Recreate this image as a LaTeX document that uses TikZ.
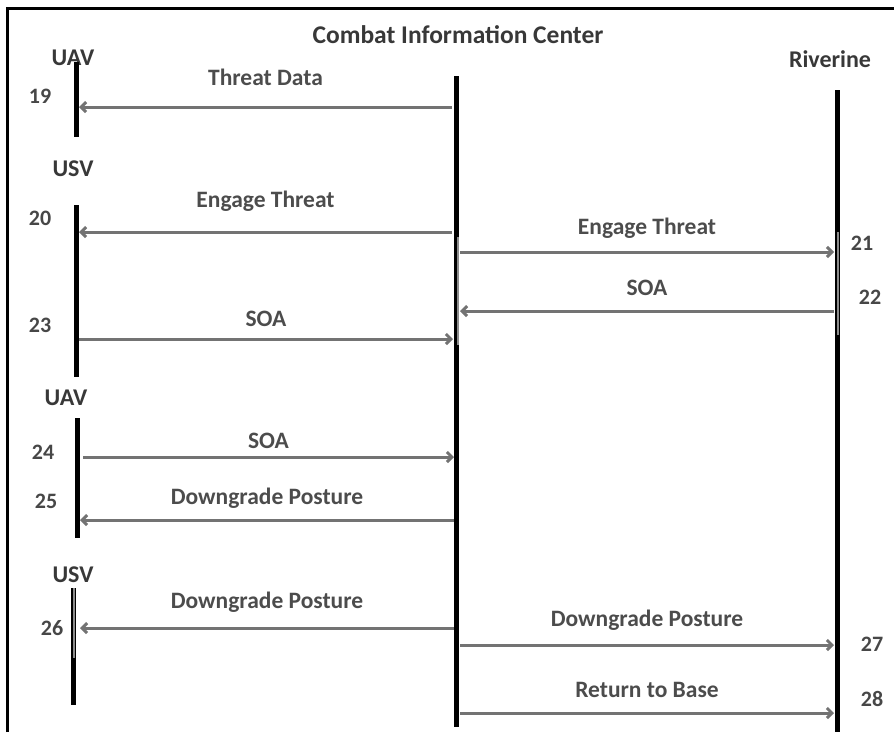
\documentclass[tikz,border=0pt]{standalone}
\usepackage{fontspec}
\setmainfont{Carlito}
\usetikzlibrary{arrows.meta, positioning}

\begin{document}
\begin{tikzpicture}[
    x=1pt, y=-1pt,
    head/.style={font=\fontsize{24}{27}\selectfont\bfseries, text=black!78, inner sep=0pt},
    lbl/.style={font=\fontsize{23.5}{27}\selectfont\bfseries, text=black!70, inner sep=0pt},
    num/.style={font=\fontsize{22}{25}\selectfont\bfseries, text=black!72, inner sep=0pt},
    lifeline/.style={line width=5pt, black},
    activ/.style={line width=2.5pt, black!45},
    msg/.style={-{Straight Barb[length=5pt, width=10pt]}, line width=3pt, black!55},
]
\useasboundingbox (0,0) rectangle (894,732);

% ── Frame ──
\draw[line width=3pt] (7,732) -- (7,8) -- (894,8);

% ── Heads ──
\node[head, font=\fontsize{25.5}{28}\selectfont\bfseries] (cic) at (458,35) {Combat Information Center};
\node[head] (riv) at (830,59) {Riverine};
\node[head] (uavA) at (73,58) {UAV};
\node[head] (usvA) at (73,169) {USV};
\node[head] (uavB) at (66,398) {UAV};
\node[head] (usvB) at (73,575) {USV};

% ── Lifelines ──
\coordinate (cicTop) at (456,76);  \coordinate (cicBot) at (456,727);
\coordinate (rivTop) at (837,90);  \coordinate (rivBot) at (837,732);
\coordinate (uavATop) at (76,62);  \coordinate (uavABot) at (76,137);
\coordinate (usvATop) at (76,205); \coordinate (usvABot) at (76,377);
\coordinate (uavBTop) at (77,418); \coordinate (uavBBot) at (77,538);
\coordinate (usvBTop) at (73,588); \coordinate (usvBBot) at (73,705);

\draw[lifeline] (cicTop) -- (cicBot);
\draw[lifeline] (rivTop) -- (rivBot);
\draw[lifeline] (uavATop) -- (uavABot);
\draw[lifeline] (usvATop) -- (usvABot);
\draw[lifeline] (uavBTop) -- (uavBBot);
\draw[lifeline] (usvBTop) -- (usvBBot);

% ── Activations ──
\draw[activ] (458,237) -- (458,345);
\draw[activ] (838,232) -- (838,335);
\draw[activ] (74,588) -- (74,658);

% ── Message ends ──
\coordinate (c19) at (452,107); \coordinate (e19) at (79,107);
\coordinate (c20) at (452,232); \coordinate (e20) at (79,232);
\coordinate (c21) at (460,252); \coordinate (e21) at (834,252);
\coordinate (c22) at (460,311); \coordinate (e22) at (834,311);
\coordinate (c23) at (453,339); \coordinate (e23) at (79,339);
\coordinate (c24) at (454,457); \coordinate (e24) at (83,457);
\coordinate (c25) at (454,520); \coordinate (e25) at (80,520);
\coordinate (c26) at (454,628); \coordinate (e26) at (80,628);
\coordinate (c27) at (460,645); \coordinate (e27) at (834,645);
\coordinate (c28) at (460,713); \coordinate (e28) at (834,713);

% ── Messages ──
\draw[msg] (c19) -- node[lbl, yshift=30pt] {Threat Data} (e19);
\draw[msg] (c20) -- node[lbl, yshift=31pt] {Engage Threat} (e20);
\draw[msg] (c21) -- node[lbl, yshift=24pt] {Engage Threat} (e21);
\draw[msg] (e22) -- node[lbl, yshift=23pt] {SOA} (c22);
\draw[msg] (e23) -- node[lbl, yshift=20pt] {SOA} (c23);
\draw[msg] (e24) -- node[lbl, yshift=16pt] {SOA} (c24);
\draw[msg] (c25) -- node[lbl, yshift=22pt] {Downgrade Posture} (e25);
\draw[msg] (c26) -- node[lbl, yshift=26pt] {Downgrade Posture} (e26);
\draw[msg] (c27) -- node[lbl, yshift=25pt] {Downgrade Posture} (e27);
\draw[msg] (c28) -- node[lbl, yshift=23pt] {Return to Base} (e28);

% ── Step numbers ──
\node[num] (n19) at (40,96) {19};
\node[num] (n20) at (40,218) {20};
\node[num] (n21) at (862,243) {21};
\node[num] (n22) at (870,297) {22};
\node[num] (n23) at (40,325) {23};
\node[num] (n24) at (43,452) {24};
\node[num] (n25) at (46,501) {25};
\node[num] (n26) at (52,628) {26};
\node[num] (n27) at (872,644) {27};
\node[num] (n28) at (872,699) {28};

\end{tikzpicture}
\end{document}
